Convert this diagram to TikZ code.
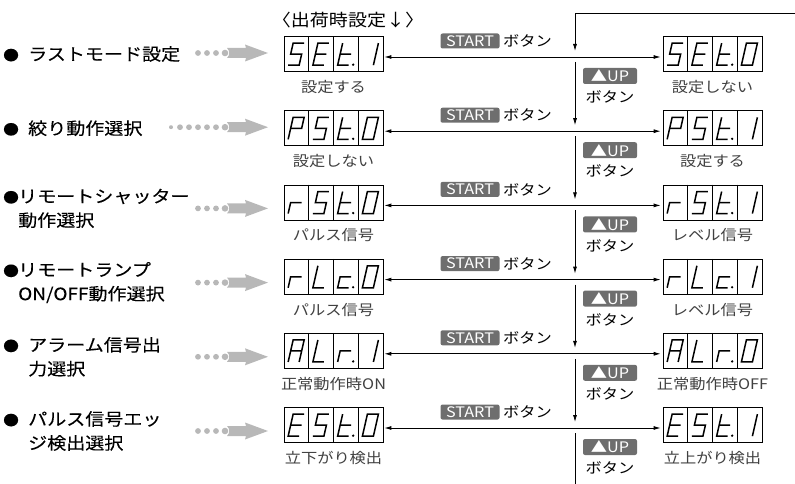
\documentclass[tikz,border=0pt]{standalone}
\usepackage{fontspec}
\setmainfont{Noto Sans CJK JP}[FakeStretch=1.12]
\newfontfamily\jpb{Noto Sans CJK JP}[FakeStretch=1.12,FakeBold=0.12]
\usetikzlibrary{arrows.meta,calc}
\definecolor{btn}{HTML}{6E6E6E}
\definecolor{dotg}{HTML}{B8B8B8}
\definecolor{lblc}{HTML}{404040}
\tikzset{
  dispbox/.style={draw, line width=0.7pt, minimum width=99pt, minimum height=35pt, inner sep=0pt},
  seg/.style={line width=1.5pt, line join=miter, line cap=butt},
  lbl/.style={inner sep=0pt, text=lblc, font=\fontsize{14.5}{14.5}\selectfont},
  lefttxt/.style={anchor=west, inner sep=0pt, align=left, font=\jpb\fontsize{17}{24}\selectfont},
  btnbox/.style={fill=btn, text=white, rounded corners=2pt, inner sep=0pt, minimum width=59pt, minimum height=15pt, font=\fontsize{14.5}{14.5}\selectfont},
  upbox/.style={fill=btn, text=white, rounded corners=2pt, inner sep=0pt, minimum width=54pt, minimum height=16pt, font=\fontsize{14.5}{14.5}\selectfont},
  btntxt/.style={inner sep=0pt, font=\fontsize{14.5}{14.5}\selectfont},
  harrow/.style={{Latex[length=7pt,width=4pt]}-{Latex[length=7pt,width=4pt]}, line width=0.8pt, shorten <=1pt, shorten >=2pt},
  varrow/.style={-{Latex[length=7pt,width=4pt]}, line width=0.8pt},
  vline/.style={line width=0.8pt},
}
% seven-segment characters
\def\chS{\draw[seg] (TR)--(TL)--(ML)--(MR)--(BR)--(BL);}
\def\chE{\draw[seg] (TR)--(TL)--(BL)--(BR) (ML)--(MR);}
\def\cht{\draw[seg] (TL)--(BL)--(BR) (ML)--(MR);}
\def\chOne{\draw[seg] (TR)--(BR);}
\def\chZero{\draw[seg] (TL)--(TR)--(BR)--(BL)--cycle;}
\def\chP{\draw[seg] (BL)--(TL)--(TR)--(MR)--(ML);}
\def\chr{\draw[seg] (BL)--(ML)--(MR);}
\def\chL{\draw[seg] (TL)--(BL)--(BR);}
\def\chc{\draw[seg] (MR)--(ML)--(BL)--(BR);}
\def\chA{\draw[seg] (BL)--(TL)--(TR)--(BR) (ML)--(MR);}
\newcommand\disp[7]{%
  \node[dispbox] (#1) at (#2,#3) {};
  \foreach \k in {1,2,3}{\draw[line width=0.6pt] ($(#1.north west)+(\k*24.75,0)$) -- ($(#1.south west)+(\k*24.75,0)$);}
  \foreach \k/\ch in {0/#4,1/#5,2/#6,3/#7}{%
    \begin{scope}[shift={($(#1.north west)+(\k*24.75,0)$)}]
      \coordinate (TL) at (9.5,7); \coordinate (TR) at (20.5,7);
      \coordinate (ML) at (7,18); \coordinate (MR) at (18,18);
      \coordinate (BL) at (4.5,29); \coordinate (BR) at (15.5,29);
      \ch
    \end{scope}}
  \fill ($(#1.north west)+(2*24.75+20,28.5)$) circle (1.3);
}
\newcommand\tailarrow[1]{%
  \begin{scope}[shift={(0,#1)}]
    \fill[dotg] (225,0) circle (3.3);
    \fill[dotg] (227,-5) -- (246,-5) -- (245,-8.5) -- (268,0) -- (245,8.5) -- (246,5) -- (227,5)
      .. controls (230,2) and (230,-2) .. (227,-5) -- cycle;
  \end{scope}}
\newcommand\dotsthree[1]{%
  \foreach \x in {198,207,216} \fill[dotg] (\x,#1) circle (2.9);
  \tailarrow{#1}}
\newcommand\dotssix[1]{%
  \fill[dotg] (171,#1) circle (2);
  \foreach \x in {180,189,198,207,216} \fill[dotg] (\x,#1) circle (2.9);
  \tailarrow{#1}}
\newcommand\bul{\makebox[25pt][l]{\fontsize{14}{14}\selectfont ●}}
\newcommand\bulb{\makebox[15pt][l]{\fontsize{14}{14}\selectfont ●}}
\begin{document}
\begin{tikzpicture}[x=1pt,y=-1pt]
\useasboundingbox (0,0) rectangle (795,484);
% header
\node[inner sep=0pt, font=\fontsize{17}{17}\selectfont] (hdr) at (348,20) {〈出荷時設定↓〉};
% rows: line y = 57 + 74.2*(i-1)
\foreach \i/\L/\a/\b/\c/\d/\e/\f/\g/\h in {
  1/57/\chS/\chE/\cht/\chOne/\chS/\chE/\cht/\chZero,
  2/131.2/\chP/\chS/\cht/\chZero/\chP/\chS/\cht/\chOne,
  3/205.4/\chr/\chS/\cht/\chZero/\chr/\chS/\cht/\chOne,
  4/279.6/\chr/\chL/\chc/\chZero/\chr/\chL/\chc/\chOne,
  5/353.8/\chA/\chL/\chr/\chOne/\chA/\chL/\chr/\chZero,
  6/428/\chE/\chS/\cht/\chZero/\chE/\chS/\cht/\chOne}{%
  \pgfmathsetmacro\cy{\L-3}
  \disp{dL\i}{333.5}{\cy}{\a}{\b}{\c}{\d}
  \disp{dR\i}{712.5}{\cy}{\e}{\f}{\g}{\h}
  \draw[harrow] ([yshift=-3pt]dL\i.east) -- ([yshift=-3pt]dR\i.west);
  \pgfmathsetmacro\sy{\L-16}
  \node[btnbox] (st\i) at (470,\sy) {START};
  \node[btntxt, anchor=west] (stb\i) at (503,\sy) {ボタン};
  \pgfmathsetmacro\uy{\L+19}
  \node[upbox] (up\i) at (610,\uy) {▲UP};
  \pgfmathsetmacro\by{\L+40}
  \node[btntxt] (upb\i) at (610,\by) {ボタン};
  \pgfmathsetmacro\vs{\L+5}
  \coordinate (vs\i) at (575,\vs);
}
% labels under displays
\node[lbl] (lL1) at (333.5,87) {設定する};
\node[lbl] (lR1) at (712.5,87) {設定しない};
\node[lbl] (lL2) at (333.5,161.2) {設定しない};
\node[lbl] (lR2) at (712.5,161.2) {設定する};
\node[lbl] (lL3) at (333.5,235.4) {パルス信号};
\node[lbl] (lR3) at (712.5,235.4) {レベル信号};
\node[lbl] (lL4) at (333.5,309.6) {パルス信号};
\node[lbl] (lR4) at (712.5,309.6) {レベル信号};
\node[lbl] (lL5) at (333.5,383.8) {正常動作時ON};
\node[lbl] (lR5) at (712.5,383.8) {正常動作時OFF};
\node[lbl] (lL6) at (333.5,458) {立下がり検出};
\node[lbl] (lR6) at (712.5,458) {立上がり検出};
% vertical flow
\coordinate (t0) at (795,13);
\coordinate (t1) at (575,13);
\coordinate (ve1) at (575,51);
\coordinate (ve2) at (575,125.2);
\coordinate (ve3) at (575,199.4);
\coordinate (ve4) at (575,273.6);
\coordinate (ve5) at (575,347.8);
\coordinate (ve6) at (575,422);
\coordinate (vend) at (575,484);
\draw[varrow] (t0) -- (t1) -- (ve1);
\draw[varrow] (vs1) -- (ve2);
\draw[varrow] (vs2) -- (ve3);
\draw[varrow] (vs3) -- (ve4);
\draw[varrow] (vs4) -- (ve5);
\draw[varrow] (vs5) -- (ve6);
\draw[vline] (vs6) -- (vend);
% left texts
\node[lefttxt] (tx1) at (3,54) {\bul ラストモード設定};
\node[lefttxt] (tx2) at (3,128.2) {\bul 絞り動作選択};
\node[lefttxt] (tx3) at (3,208.4) {\bulb リモートシャッター\\\hspace*{15pt}動作選択};
\node[lefttxt] (tx4) at (3,282.6) {\bulb リモートランプ\\\hspace*{15pt}ON/OFF動作選択};
\node[lefttxt] (tx5) at (3,356.8) {\bul アラーム信号出\\\hspace*{25pt}力選択};
\node[lefttxt] (tx6) at (3,431) {\bul パルス信号エッ\\\hspace*{25pt}ジ検出選択};
% dotted arrows
\dotsthree{53}
\dotssix{127.2}
\dotsthree{208.4}
\dotsthree{282.6}
\dotsthree{356.8}
\dotsthree{431}
\end{tikzpicture}
\end{document}
